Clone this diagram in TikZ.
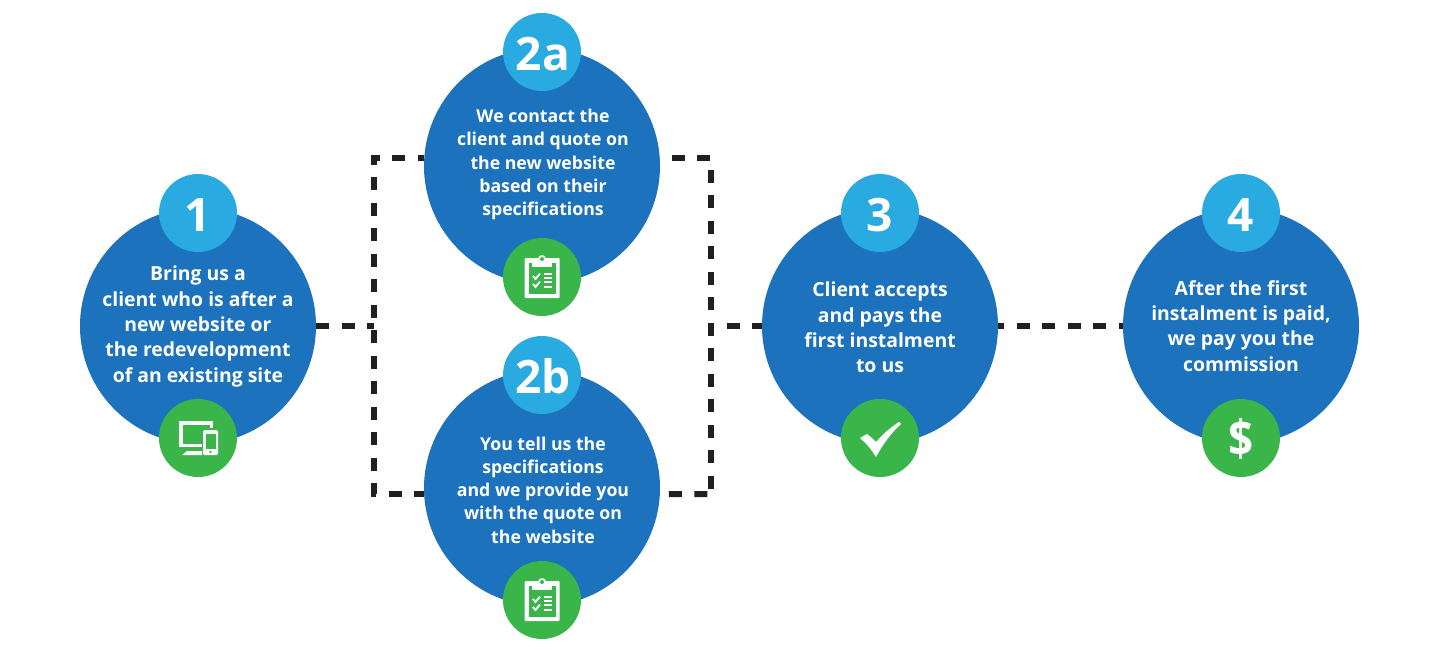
\documentclass[tikz,border=0pt]{standalone}
\usepackage{fontspec}
\setmainfont{Open Sans}[BoldFont={Open Sans Bold}]
\definecolor{bigblue}{HTML}{1C72BC}
\definecolor{lightblue}{HTML}{29ABE2}
\definecolor{okgreen}{HTML}{39B54A}
\definecolor{dashink}{HTML}{231F20}
\tikzset{
  bigc/.style={circle,minimum size=236pt,inner sep=0pt,outer sep=0pt},
  numc/.style={circle,fill=lightblue,minimum size=78pt,inner sep=0pt,text=white,text height=37.5pt,text depth=0pt,font=\fontsize{46}{46}\selectfont\bfseries},
  grnc/.style={circle,fill=okgreen,minimum size=78pt,inner sep=0pt},
  body/.style={text=white,align=center,font=\fontsize{19.4}{25.3}\selectfont\bfseries,inner sep=0pt},
  bodytight/.style={text=white,align=center,font=\fontsize{17.7}{23.2}\selectfont\bfseries,inner sep=0pt},
  conn/.style={draw=dashink,line width=6pt,dash pattern=on 13pt off 12.5pt},
}
\newcommand{\clipboardicon}[1]{%
  \begin{scope}[shift={(#1)}]
    \fill[white,rounded corners=1pt] (-17.5,-19) rectangle (17.5,21);
    \fill[okgreen] (-13.5,-14) rectangle (13.5,17);
    \fill[white] (-10,-14) -- (-10,-10) -- (10,-10) -- (10,-14) -- cycle;
    \fill[white] (0,-18) circle (4pt);
    \fill[okgreen] (0,-18) circle (2pt);
    \draw[white,line width=1.9pt] (-9,-1) -- (-6.5,2) -- (-2,-3.5);
    \draw[white,line width=1.9pt] (-9,7) -- (-6.5,10) -- (-2,4.5);
    \foreach \yy in {-3,1,5,10} \fill[white] (2,\yy-.8) rectangle (10,\yy+.8);
  \end{scope}}
\begin{document}
\begin{tikzpicture}[x=1pt,y=-1pt]
\useasboundingbox (0,0) rectangle (1440,650);
\coordinate (jl) at (374,326);
\coordinate (jr) at (711,326);
\coordinate (brb) at (711,494);
\path node[bigc] (c1) at (198,326) {}
      node[bigc] (c2a) at (542,166) {}
      node[bigc] (c2b) at (542,488) {}
      node[bigc] (c3) at (880,326) {}
      node[bigc] (c4) at (1241,326) {};
\draw[conn] (c1.east) -- (jl);
\draw[conn,dash phase=6.7pt] (c2a.176) -| (jl) |- (c2b.183);
\draw[conn,dash phase=13.3pt] (c2a.4) -| (jr) -- (brb);
\draw[conn,dash phase=16.5pt] (c2b.357) -- (brb);
\draw[conn,dash phase=10pt] (jr) -- (c3.west);
\draw[conn,dash phase=7pt] (c3.east) -- (c4.west);
\foreach \n in {c1,c2a,c2b,c3,c4} \fill[bigblue] (\n) circle (118pt);
\node[numc] (n1) at (198,213) {1};
\node[numc] (n2a) at (542,52) {\hspace*{1.5pt}2a};
\node[numc] (n2b) at (542,375) {\hspace*{1.5pt}2b};
\node[numc] (n3) at (880,213) {3};
\node[numc] (n4) at (1241,213) {4};
\node[grnc] (g1) at (198,438) {};
\node[grnc] (g2a) at (542,277) {};
\node[grnc] (g2b) at (542,600) {};
\node[grnc] (g3) at (880,438) {};
\node[grnc] (g4) at (1241,438) {};
\node[body] (t1) at (198,326.5) {Bring us a\\client who is after a\\new website or\\the redevelopment\\of an existing site};
\node[bodytight] (t2a) at (543,164.5) {We contact the\\client and quote on\\the new website\\based on their\\specifications};
\node[bodytight] (t2b) at (543,490) {You tell us the\\specifications\\and we provide you\\with the quote on\\the website};
\node[body] (t3) at (880,327.5) {Client accepts\\and pays the\\first instalment\\to us};
\node[body] (t4) at (1241,326) {After the first\\instalment is paid,\\we pay you the\\commission};
% devices icon
\begin{scope}[shift={(g1)}]
  \draw[white,line width=3.5pt] (3.7,7.25) -- (-17.25,7.25) -- (-17.25,-15.25) -- (13.25,-15.25) -- (13.25,-10);
  \fill[white] (-11,13) -- (4,13) -- (4,17) -- (-16,17) -- cycle;
  \fill[white,rounded corners=1.5pt] (5,-8) rectangle (20,17);
  \fill[okgreen] (8,-4) rectangle (18,11);
  \fill[okgreen] (12.5,14) circle (1.4pt);
\end{scope}
\clipboardicon{g2a}
\clipboardicon{g2b}
% tick
\begin{scope}[shift={(g3)}]
  \fill[white] (-20,0) -- (-13,-4) .. controls (-9,-1) and (-7,1) .. (-4,4) .. controls (3,-4) and (11,-11) .. (19,-16) -- (21,-14) .. controls (12,-6) and (3,6) .. (-4,19) .. controls (-9,11) and (-14,5) .. (-20,0) -- cycle;
\end{scope}
\node[text=white,font=\fontsize{44}{44}\selectfont\bfseries] (d4) at (1241,439) {\scalebox{1}[1.14]{\$}};
\end{tikzpicture}
\end{document}
